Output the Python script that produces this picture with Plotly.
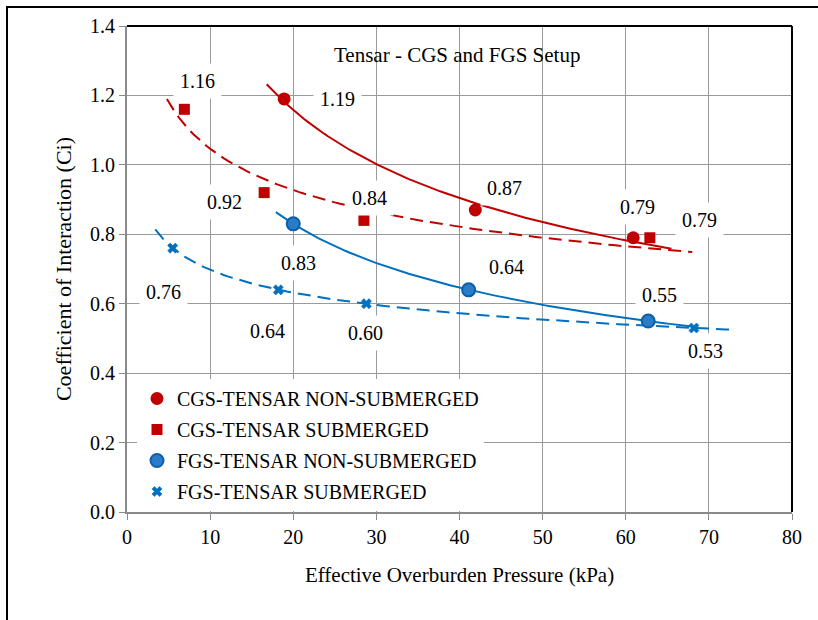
import numpy as np
import plotly.graph_objects as go

# ---- data ----
cgs_ns_x = [18.9, 41.9, 60.9]
cgs_ns_y = [1.19, 0.87, 0.79]
cgs_s_x = [6.9, 16.5, 28.5, 62.9]
cgs_s_y = [1.16, 0.92, 0.84, 0.79]
fgs_ns_x = [20.0, 41.1, 62.7]
fgs_ns_y = [0.83, 0.64, 0.55]
fgs_s_x = [5.5, 18.2, 28.8, 68.2]
fgs_s_y = [0.76, 0.64, 0.60, 0.53]

series_names = ["CGS-TENSAR NON-SUBMERGED", "CGS-TENSAR SUBMERGED",
                "FGS-TENSAR NON-SUBMERGED", "FGS-TENSAR SUBMERGED"]
trend_ranges = [(16.8, 65.5), (4.8, 68.0), (17.9, 68.0), (3.4, 73.2)]

x_ticks = [0, 10, 20, 30, 40, 50, 60, 70, 80]
y_ticks = [0.0, 0.2, 0.4, 0.6, 0.8, 1.0, 1.2, 1.4]

# ---- styles ----
RED = "#C00000"
BLUE = "#0070C0"
FONT = "Liberation Serif, Times New Roman, serif"

label_offsets = [
    [(53, 0), (29, 22), (4, 31)],
    [(13, 28), (-40, -9), (6, 22), (50, 18)],
    [(5, -39), (38, 23), (11, 26)],
    [(-9, -44), (-11, -41), (-1, -29), (12, -23)],
]

styles = [
    dict(color=RED, marker=dict(symbol="circle", size=13, color=RED), dash="solid"),
    dict(color=RED, marker=dict(symbol="square", size=11, color=RED), dash="13px,7px"),
    dict(color=BLUE, marker=dict(symbol="circle", size=13, color="#2B7CC8",
                                 line=dict(color="#0B5FA8", width=2)), dash="solid"),
    dict(color=BLUE, marker=dict(symbol="x", size=9, color=BLUE,
                                 line=dict(color=BLUE, width=0.5)), dash="13px,7px"),
]

all_x = [cgs_ns_x, cgs_s_x, fgs_ns_x, fgs_s_x]
all_y = [cgs_ns_y, cgs_s_y, fgs_ns_y, fgs_s_y]

# layout in window pixels (body margin removed by post_script)
W, H = 818, 620
PL, PR, PT, PB = 127, 792, 26, 512


def sx(px):
    return (px - PL) / (PR - PL)


def sy(py):
    return (PB - py) / (PB - PT)


fig = go.Figure()

# trendlines (power fit)
for i, (xs, ys) in enumerate(zip(all_x, all_y)):
    b, a = np.polyfit(np.log(xs), np.log(ys), 1)
    tx = np.linspace(trend_ranges[i][0], trend_ranges[i][1], 120)
    ty = np.exp(a) * tx ** b
    fig.add_trace(go.Scatter(x=tx, y=ty, mode="lines", showlegend=False,
                             hoverinfo="skip",
                             line=dict(color=styles[i]["color"], width=2,
                                       dash=styles[i]["dash"])))

# markers
for i, (xs, ys) in enumerate(zip(all_x, all_y)):
    fig.add_trace(go.Scatter(x=xs, y=ys, mode="markers", name=series_names[i],
                             legendgroup=f"g{i}",
                             marker=styles[i]["marker"]))

# data labels
annotations = []
for i, (xs, ys) in enumerate(zip(all_x, all_y)):
    for j, (xv, yv) in enumerate(zip(xs, ys)):
        dx, dy = label_offsets[i][j]
        annotations.append(dict(x=xv, y=yv, xref="x", yref="y", text=f"{yv:.2f}",
                                showarrow=False, xshift=dx, yshift=dy,
                                font=dict(family=FONT, size=20, color="black"),
                                bgcolor="white", borderpad=6))

annotations.append(dict(x=sx(457), y=sy(55), xref="paper", yref="paper",
                        xanchor="center", yanchor="middle",
                        text="Tensar - CGS and FGS Setup", showarrow=False,
                        font=dict(family=FONT, size=21, color="black")))

shapes = [
    dict(type="line", xref="paper", yref="paper", x0=0, x1=1, y0=1, y1=1,
         line=dict(color="black", width=2)),
    dict(type="line", xref="paper", yref="paper", x0=1, x1=1, y0=0, y1=1,
         line=dict(color="black", width=2)),
    dict(type="line", xref="paper", yref="paper", x0=sx(6), x1=sx(830),
         y0=sy(7), y1=sy(7), line=dict(color="black", width=2)),
    dict(type="line", xref="paper", yref="paper", x0=sx(7), x1=sx(7),
         y0=sy(6), y1=sy(640), line=dict(color="black", width=2)),
]

fig.update_layout(
    width=W, height=H,
    margin=dict(l=PL, r=W - PR, t=PT, b=H - PB),
    paper_bgcolor="white", plot_bgcolor="white",
    font=dict(family=FONT, size=20, color="black"),
    showlegend=True,
    legend=dict(x=sx(137), y=sy(379), xanchor="left", yanchor="top",
                bgcolor="white", borderwidth=0, tracegroupgap=2,
                font=dict(family=FONT, size=20, color="black"),
                traceorder="grouped"),
    annotations=annotations,
    shapes=shapes,
)

fig.update_xaxes(range=[0, 80], tickvals=x_ticks, ticktext=[str(v) for v in x_ticks],
                 showgrid=True, gridcolor="#9a9a9a", gridwidth=1.3,
                 showline=True, linecolor="#8a8a8a", linewidth=2,
                 ticks="outside", ticklen=6, tickcolor="#8a8a8a", tickwidth=1.3,
                 zeroline=False,
                 title=dict(text="Effective Overburden Pressure (kPa)", standoff=20,
                            font=dict(family=FONT, size=21)),
                 tickfont=dict(family=FONT, size=20))
fig.update_yaxes(range=[0, 1.4], tickvals=y_ticks, ticktext=[f"{v:.1f}" for v in y_ticks],
                 showgrid=True, gridcolor="#9a9a9a", gridwidth=1.3,
                 showline=True, linecolor="#8a8a8a", linewidth=2,
                 ticks="outside", ticklen=6, tickcolor="#8a8a8a", tickwidth=1.3,
                 zeroline=False,
                 title=dict(text="Coefficient of Interaction (Ci)", standoff=12,
                            font=dict(family=FONT, size=22)),
                 tickfont=dict(family=FONT, size=20))

fig.write_html("out.html",
               config={"displayModeBar": False},
               post_script="document.body.style.margin='0px';document.body.style.overflow='hidden';")
